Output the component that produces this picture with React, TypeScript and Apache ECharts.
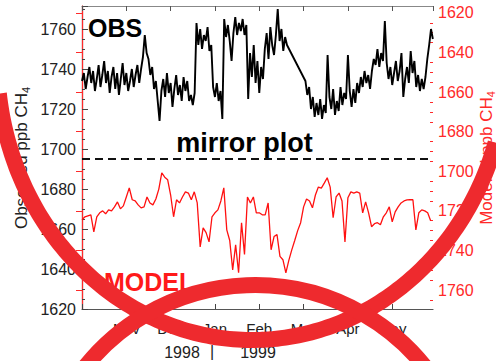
import React, { useEffect, useRef } from "react";
import * as echarts from "echarts";

// Month tick labels (bottom axis), index = month number from Oct 1998
const monthLabels = ["", "Nov", "Dec", "Jan", "Feb", "Mar", "Apr", "May"];
const yearLabels = ["1998", "|", "1999"];
const leftTicks = [1620, 1640, 1660, 1680, 1700, 1720, 1740, 1760];
const rightTicks = [1620, 1640, 1660, 1680, 1700, 1720, 1740, 1760];
const mirrorLevel = 1695;

// Observed CH4 (ppb), sampled every 1/24 month starting at the left edge
const obsStep = 1 / 24;
const obsValues: (number | null)[] = [
  1734, 1738, 1730, 1736, 1741, 1733, 1739, 1729, 1735, 1742,
  1731, 1737, 1744, 1733, 1739, 1728, 1736, 1741, 1730, 1738,
  1727, 1735, 1743, 1732, 1738, 1729, 1734, 1740, 1731, 1737,
  1742, 1733, 1740, 1746, 1757, 1748, 1745, 1737, 1741, 1730,
  1734, 1724, 1714, 1729, 1735, 1726, 1738, 1728, 1733, 1721,
  1730, 1737, 1727, 1732, 1724, 1736, 1729, 1734, 1724, 1727,
  1722, 1728, 1763, 1752, 1760, 1750, 1757, 1754, 1761, 1749,
  1752, 1731, 1726, 1733, 1724, 1729, 1715, 1765, 1756, 1762,
  1754, 1744, 1758, 1766, 1757, 1763, 1759, 1765, 1757, 1762,
  1725, 1748, 1736, 1752, 1733, 1744, 1728, 1741, 1735, 1750,
  1758, 1745, 1761, 1752, 1747, 1757, 1770, 1754, 1760, 1749,
  1756, 1752, null, null, null, null, null, null, null, null,
  null, 1734, 1727, 1731, 1720, 1726, 1716, 1723, 1717, 1725,
  1715, 1722, 1718, 1747, 1726, 1720, 1730, 1717, 1724, 1719,
  1731, 1722, 1728, 1725, 1747, 1729, 1721, 1730, 1723, 1733,
  1728, 1736, 1731, 1739, 1733, 1737, 1730, 1739, 1745, 1742,
  1750, 1741, 1748, 1744, 1764, 1743, 1735, 1741, 1732, 1738,
  1744, 1734, 1739, 1748, 1726, 1735, 1741, 1733, 1749, 1738,
  1744, 1731, 1737, 1729, 1735, 1730, 1736, 1745, 1752, 1760,
  1755,
];

// Modeled CH4 (ppb, right inverted axis), sampled every 1/15 month
const modelStep = 1 / 15;
const modelValues: number[] = [
  1724.5, 1723, 1722.5, 1722, 1730.6, 1723, 1721, 1720, 1721.5, 1719.5,
  1720, 1718, 1715.5, 1719, 1717.5, 1713, 1708.4, 1714.4, 1715, 1717,
  1718.5, 1718, 1713, 1716, 1717, 1714, 1709, 1700.8, 1703, 1704.3,
  1712, 1723, 1714.4, 1716, 1713, 1710.4, 1711, 1714.4, 1710.4, 1716,
  1738.2, 1728.6, 1731, 1735.7, 1723, 1721, 1719.5, 1715, 1708.4, 1729.6,
  1735, 1749.8, 1737.2, 1751.3, 1726, 1742, 1713, 1716, 1713, 1721,
  1721, 1722, 1722, 1716, 1739.7, 1733, 1732, 1743, 1744.7, 1751.3,
  1745, 1739.7, 1735, 1730, 1726, 1718, 1714, 1715, 1718.5, 1712,
  1708, 1708.5, 1706, 1703.3, 1708, 1723.5, 1713, 1711, 1715, 1735.7,
  1713.4, 1710.4, 1711, 1710.4, 1711, 1721, 1715.5, 1721, 1728, 1726.5,
  1726, 1727, 1723, 1721, 1718, 1725.6, 1720.5, 1718, 1716, 1715,
  1714.5, 1714.4, 1714.4, 1729.6, 1721, 1719.5, 1720, 1721, 1725,
];

const FONT = "'Liberation Sans', Arial, Helvetica, sans-serif";
const RED = "#ff2a2a";
const RING = "#ee2a2e";

// Decorative lower half-ellipse (the "U" stroke over the chart)
function ellipseArc(cx: number, cy: number, rx: number, ry: number, t0: number, t1: number, n: number) {
  const pts: number[][] = [];
  for (let k = 0; k <= n; k++) {
    const t = t0 + ((t1 - t0) * k) / n;
    pts.push([cx + rx * Math.cos(t), cy + ry * Math.sin(t)]);
  }
  return pts;
}

export default function App() {
  const ref = useRef<HTMLDivElement>(null);

  useEffect(() => {
    document.body.style.margin = "0";
    if (!ref.current) return;
    const chart = echarts.init(ref.current, undefined, { renderer: "svg" });

    const minorRight: number[] = [];
    for (let i = 0; i < rightTicks.length; i++) {
      for (const d of [5, 10, 15]) {
        const v = rightTicks[i] + d;
        if (v < 1769) minorRight.push(v);
      }
    }

    const obsData = obsValues.map((v, i) => [i * obsStep, v]);
    const modelData = modelValues.map((v, i) => [i * modelStep, v]);

    const nameRich = (color: string) => ({
      a: { fontSize: 17, lineHeight: 20, fontFamily: FONT, fill: color },
      s: { fontSize: 11, lineHeight: 10, verticalAlign: "bottom", fontFamily: FONT, fill: color },
    });

    chart.setOption({
      animation: false,
      backgroundColor: "#ffffff",
      textStyle: { fontFamily: FONT },
      grid: { left: 82, right: 63, top: 6, bottom: 52, containLabel: false },
      xAxis: [
        {
          type: "value",
          position: "bottom",
          min: 0,
          max: 7.92,
          interval: 1,
          splitLine: { show: false },
          axisLine: { lineStyle: { color: "#555", width: 1.2 } },
          axisTick: { inside: true, length: 5, lineStyle: { color: "#444" } },
          axisLabel: {
            margin: 12,
            fontSize: 15,
            color: "#222",
            fontFamily: FONT,
            formatter: (v: number) => monthLabels[Math.round(v)] ?? "",
            showMaxLabel: false,
          },
        },
        {
          type: "value",
          position: "top",
          min: 0,
          max: 7.92,
          interval: 1,
          splitLine: { show: false },
          axisLine: { lineStyle: { color: "#888", width: 1.2 } },
          axisTick: { inside: true, length: 5, lineStyle: { color: "#555" } },
          axisLabel: { show: false },
        },
      ],
      yAxis: [
        {
          type: "value",
          position: "left",
          min: 1620,
          max: 1771.5,
          interval: 20,
          splitLine: { show: false },
          axisLine: { show: true, lineStyle: { color: "#555", width: 1.2 } },
          axisTick: { inside: true, length: 6, lineStyle: { color: "#444" } },
          minorTick: { show: true, splitNumber: 4, length: 3, lineStyle: { color: "#444" } },
          axisLabel: {
            margin: 6,
            fontSize: 16,
            color: "#222",
            fontFamily: FONT,
            formatter: (v: number) => (leftTicks.includes(v) ? String(v) : ""),
          },
        },
        {
          type: "value",
          position: "right",
          inverse: true,
          min: 1616.5,
          max: 1769.6,
          splitLine: { show: false },
          axisLine: { show: true, lineStyle: { color: RED, width: 1.2 } },
          axisTick: { inside: true, length: 6, customValues: rightTicks, lineStyle: { color: RED } },
          axisLabel: {
            margin: 5,
            fontSize: 16,
            color: RED,
            fontFamily: FONT,
            customValues: rightTicks,
            formatter: (v: number) => String(v),
          },
        },
        {
          type: "value",
          position: "right",
          inverse: true,
          min: 1616.5,
          max: 1769.6,
          splitLine: { show: false },
          axisLine: { show: false },
          axisTick: { inside: true, length: 3, customValues: minorRight, lineStyle: { color: RED } },
          axisLabel: { show: false, customValues: minorRight },
        },
      ],
      series: [
        {
          type: "line",
          name: "OBS",
          xAxisIndex: 0,
          yAxisIndex: 0,
          data: obsData,
          showSymbol: false,
          connectNulls: true,
          lineStyle: { color: "#000", width: 1.9 },
          markLine: {
            silent: true,
            symbol: "none",
            label: { show: false },
            lineStyle: { type: [8, 5], color: "#111", width: 2 },
            data: [{ yAxis: mirrorLevel }],
          },
          z: 3,
        },
        {
          type: "line",
          name: "MODEL",
          xAxisIndex: 0,
          yAxisIndex: 1,
          data: modelData,
          showSymbol: false,
          lineStyle: { color: "#ff1010", width: 1.3 },
          z: 2,
        },
      ],
      graphic: [
        {
          type: "text",
          x: 88,
          y: 28,
          z: 50,
          style: { text: "OBS", font: `bold 25px ${FONT}`, fill: "#000", align: "left", verticalAlign: "middle" },
        },
        {
          type: "text",
          x: 244.5,
          y: 142.5,
          z: 50,
          style: { text: "mirror plot", font: `bold 27px ${FONT}`, fill: "#000", align: "center", verticalAlign: "middle" },
        },
        {
          type: "text",
          x: 104,
          y: 282,
          z: 50,
          style: { text: "MODEL", font: `bold 25px ${FONT}`, fill: "#ff1a1a", align: "left", verticalAlign: "middle" },
        },
        {
          type: "text",
          x: 21,
          y: 158,
          rotation: Math.PI / 2,
          z: 50,
          style: {
            text: "{a|Observed ppb CH}{s|4}",
            rich: nameRich("#222"),
            align: "center",
            verticalAlign: "middle",
          },
        },
        {
          type: "text",
          x: 486,
          y: 158,
          rotation: Math.PI / 2,
          z: 50,
          style: {
            text: "{a|Modeled ppb CH}{s|4}",
            rich: nameRich(RED),
            align: "center",
            verticalAlign: "middle",
          },
        },
        {
          type: "text",
          x: 182,
          y: 352,
          z: 50,
          style: { text: yearLabels[0], font: `16px ${FONT}`, fill: "#222", align: "center", verticalAlign: "middle" },
        },
        {
          type: "text",
          x: 212,
          y: 351,
          z: 50,
          style: { text: yearLabels[1], font: `16px ${FONT}`, fill: "#222", align: "center", verticalAlign: "middle" },
        },
        {
          type: "text",
          x: 258,
          y: 352,
          z: 50,
          style: { text: yearLabels[2], font: `16px ${FONT}`, fill: "#222", align: "center", verticalAlign: "middle" },
        },
        {
          type: "polyline",
          z: 100,
          shape: { points: ellipseArc(252, 60, 255, 280, 0.3, Math.PI - 0.12, 160) },
          style: { fill: "none", stroke: RING, lineWidth: 16 },
        },
        {
          type: "circle",
          z: 100,
          shape: { cx: 255, cy: 502, r: 217 },
          style: { fill: "none", stroke: RING, lineWidth: 16 },
        },
      ],
    });

    return () => chart.dispose();
  }, []);

  return <div ref={ref} style={{ width: 496, height: 361 }} />;
}
